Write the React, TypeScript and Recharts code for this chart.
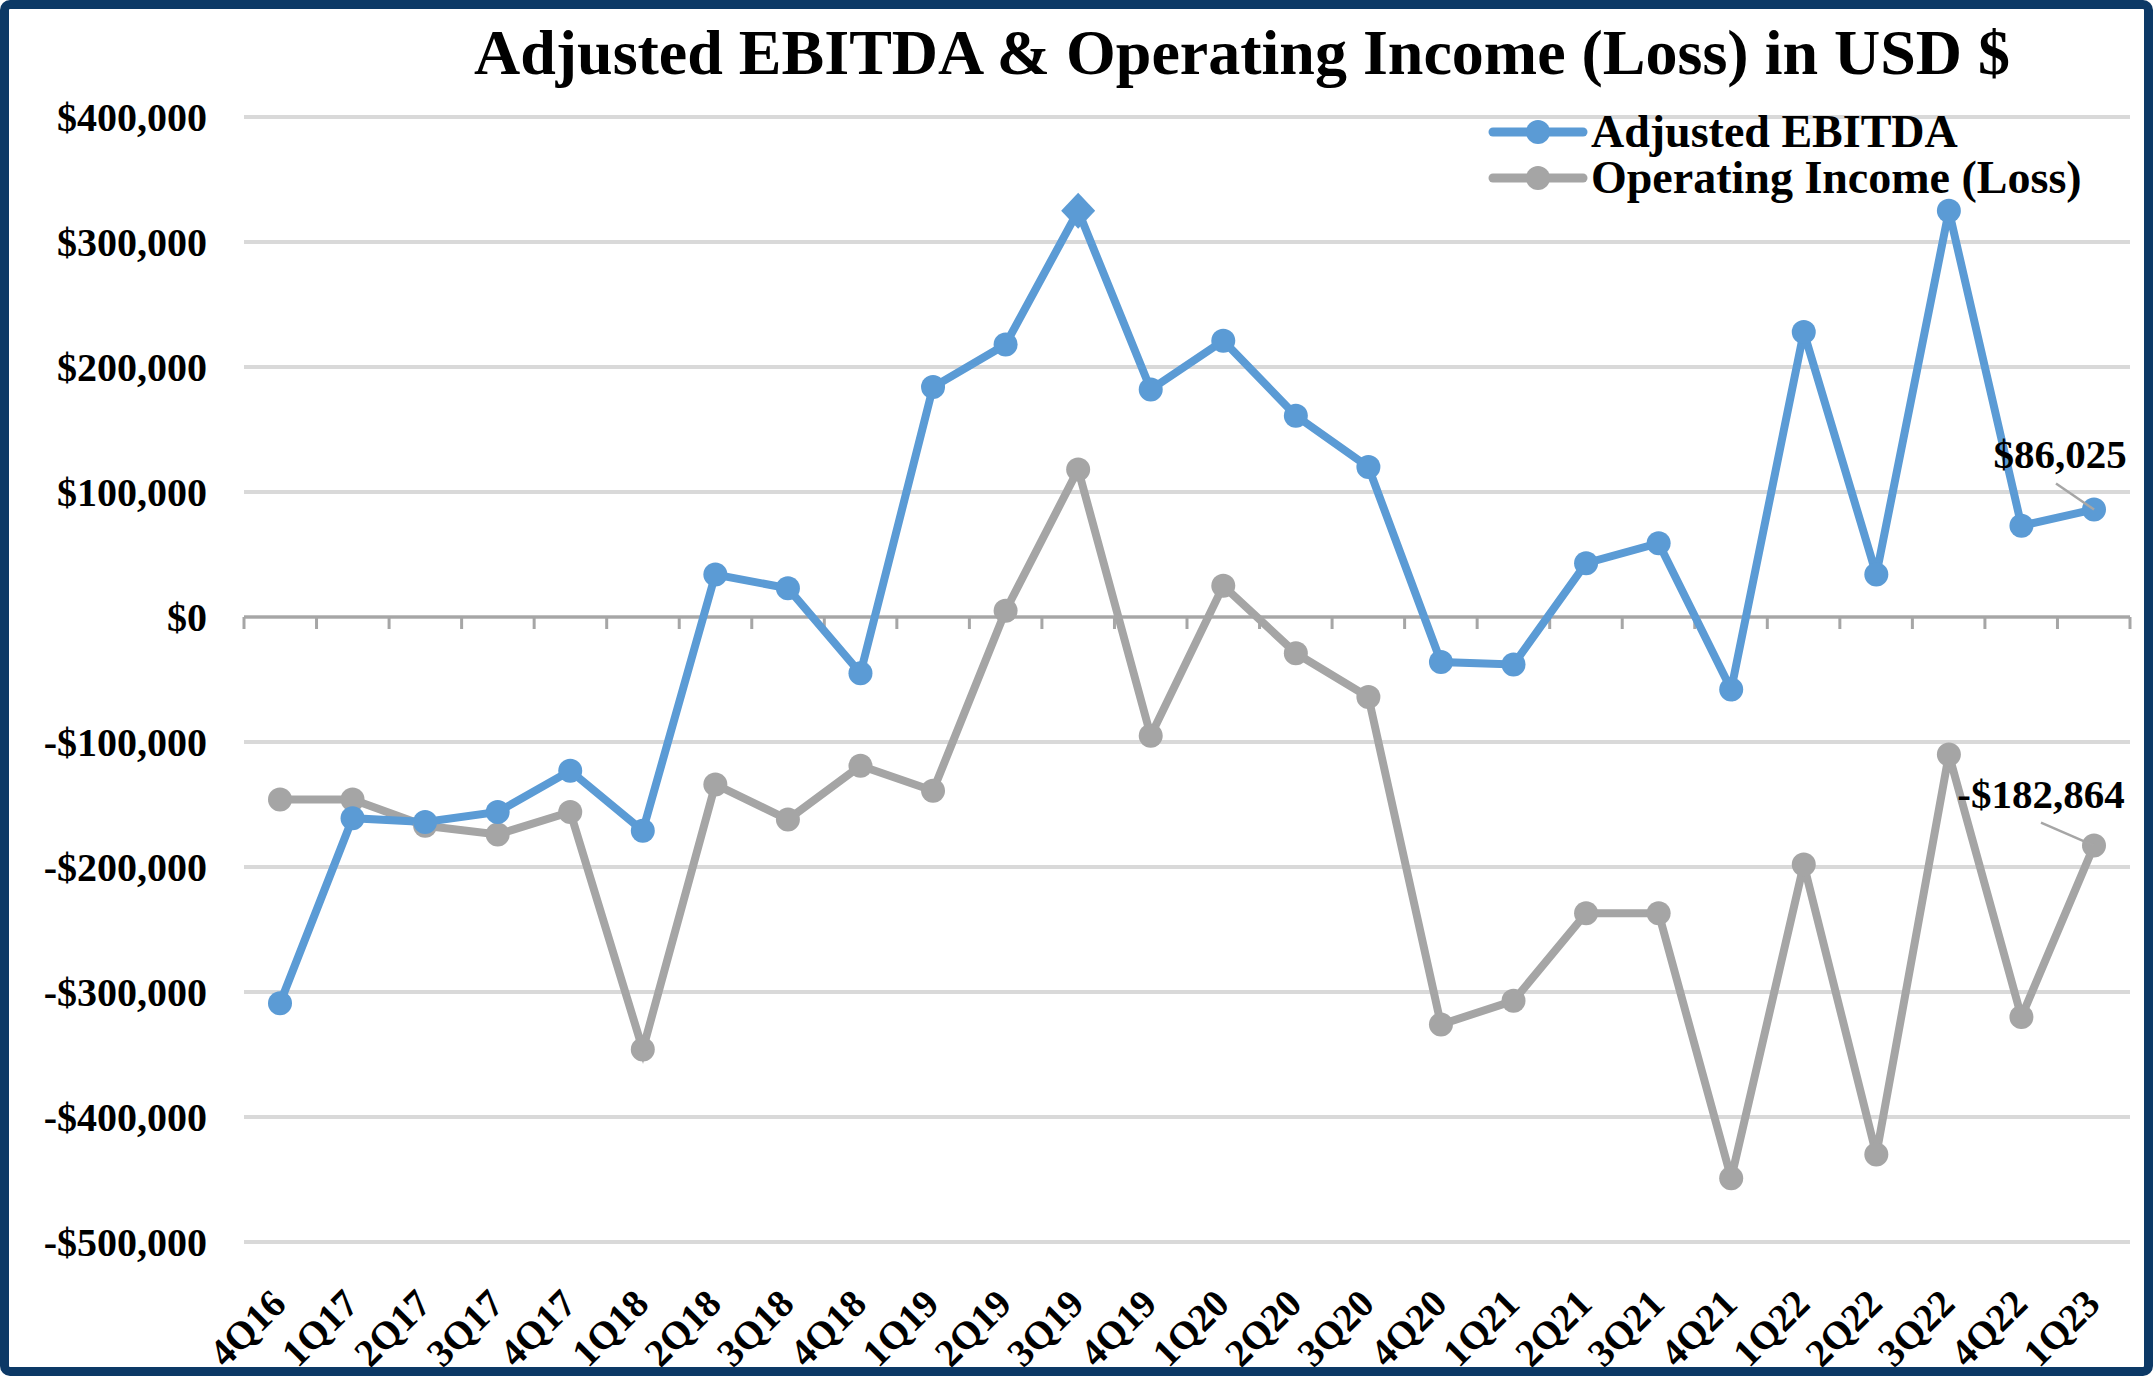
import React from 'react';
import { LineChart, Line, XAxis, YAxis, CartesianGrid, Legend, ReferenceLine, LabelList } from 'recharts';

const quarters = [
  '4Q16', '1Q17', '2Q17', '3Q17', '4Q17', '1Q18', '2Q18', '3Q18', '4Q18',
  '1Q19', '2Q19', '3Q19', '4Q19', '1Q20', '2Q20', '3Q20', '4Q20',
  '1Q21', '2Q21', '3Q21', '4Q21', '1Q22', '2Q22', '3Q22', '4Q22', '1Q23',
];

const adjustedEbitda = [
  -309000, -161000, -164000, -156000, -123000, -171000, 34000, 23000, -45000,
  184000, 218000, 325000, 182000, 221000, 161000, 120000, -36000,
  -38000, 43000, 59000, -58000, 228000, 34000, 325000, 73000, 86025,
];

const operatingIncome = [
  -146000, -146000, -167000, -174000, -156000, -346000, -134000, -162000, -119000,
  -139000, 5000, 118000, -95000, 25000, -29000, -64000, -326000,
  -307000, -237000, -237000, -449000, -198000, -430000, -110000, -320000, -182864,
];

const yTicks = [-500000, -400000, -300000, -200000, -100000, 0, 100000, 200000, 300000, 400000];

// the peak quarter Excel drew with a diamond marker
const highlightQuarter = '3Q19';

const BLUE = '#5b9bd5';
const GRAY = '#a5a5a5';
const AXIS = '#a6a6a6';
const FONT = '"Liberation Serif", "Times New Roman", serif';

const data = quarters.map((q, i) => ({ q, ebitda: adjustedEbitda[i], opIncome: operatingIncome[i] }));
const lastIndex = quarters.length - 1;

const money = (v: number) =>
  v < 0 ? `-$${Math.abs(v).toLocaleString('en-US')}` : `$${v.toLocaleString('en-US')}`;

const EbitdaDot = (props: any) => {
  const { cx, cy, payload, index } = props;
  if (payload.q === highlightQuarter) {
    return (
      <path key={`d${index}`} d={`M${cx},${cy - 18}L${cx + 17},${cy}L${cx},${cy + 18}L${cx - 17},${cy}Z`} fill={BLUE} />
    );
  }
  return <circle key={`d${index}`} cx={cx} cy={cy} r={12} fill={BLUE} />;
};

const IncomeDot = (props: any) => {
  const { cx, cy, index } = props;
  return <circle key={`g${index}`} cx={cx} cy={cy} r={12} fill={GRAY} />;
};

// zero line doubles as the category axis, with tick marks between quarters
const ZeroAxis = (props: any) => {
  const { x1, y1, x2, y2 } = props;
  const n = quarters.length;
  const step = (x2 - x1) / n;
  return (
    <g>
      <line x1={x1} y1={y1} x2={x2} y2={y2} stroke={AXIS} strokeWidth={3} />
      {Array.from({ length: n + 1 }, (_, i) => (
        <line key={i} x1={x1 + i * step} x2={x1 + i * step} y1={y1} y2={y1 + 12} stroke={AXIS} strokeWidth={3} />
      ))}
    </g>
  );
};

const QuarterTick = (props: any) => {
  const { x, y, payload } = props;
  return (
    <text
      x={0}
      y={0}
      transform={`translate(${x + 8},${y + 56}) rotate(-45)`}
      textAnchor="end"
      fontFamily={FONT}
      fontWeight="bold"
      fontSize={39}
      fill="#000"
    >
      {payload.value}
    </text>
  );
};

const endLabel = (dx: number, dy: number, lx: number, ly: number) => (props: any) => {
  const { x, y, index, value } = props;
  if (index !== lastIndex) return null;
  return (
    <g>
      <line x1={x + lx} y1={y + ly} x2={x} y2={y} stroke={AXIS} strokeWidth={2.5} />
      <text x={x + dx} y={y + dy} textAnchor="middle" fontFamily={FONT} fontWeight="bold" fontSize={41} fill="#000">
        {money(value)}
      </text>
    </g>
  );
};

const legendItems = [
  { name: 'Adjusted EBITDA', color: BLUE },
  { name: 'Operating Income (Loss)', color: GRAY },
];

const LegendContent = () => (
  <div style={{ fontFamily: FONT, fontWeight: 'bold', fontSize: 46, lineHeight: '46px', color: '#000' }}>
    {legendItems.map((item) => (
      <div key={item.name} style={{ display: 'flex', alignItems: 'center', whiteSpace: 'nowrap' }}>
        <svg width={100} height={46}>
          <line x1={5} x2={95} y1={23} y2={23} stroke={item.color} strokeWidth={9} strokeLinecap="round" />
          <circle cx={50} cy={23} r={12} fill={item.color} />
        </svg>
        <span style={{ marginLeft: 3 }}>{item.name}</span>
      </div>
    ))}
  </div>
);

export default function App() {
  return (
    <div style={{ position: 'absolute', left: 0, top: 0, width: 2153, height: 1376, background: '#fff', overflow: 'hidden' }}>
      <div
        style={{
          position: 'absolute',
          left: 1242,
          top: 21,
          transform: 'translateX(-50%)',
          whiteSpace: 'nowrap',
          fontFamily: FONT,
          fontWeight: 'bold',
          fontSize: 64,
          lineHeight: '64px',
          color: '#000',
        }}
      >
        Adjusted EBITDA &amp; Operating Income (Loss) in USD $
      </div>
      <LineChart width={2153} height={1376} data={data} margin={{ top: 117, right: 23, left: 0, bottom: 0 }}>
        <CartesianGrid vertical={false} stroke="#d9d9d9" strokeWidth={4} />
        <XAxis
          dataKey="q"
          height={134}
          padding={{ left: 36, right: 36 }}
          axisLine={false}
          tickLine={false}
          interval={0}
          tick={<QuarterTick />}
        />
        <YAxis
          width={244}
          domain={[-500000, 400000]}
          ticks={yTicks}
          tickFormatter={money}
          axisLine={false}
          tickLine={false}
          tickMargin={31}
          tick={{ fontSize: 40, fontWeight: 'bold', fontFamily: FONT, fill: '#000' }}
        />
        <ReferenceLine y={0} shape={ZeroAxis} />
        <Legend
          layout="vertical"
          align="center"
          verticalAlign="middle"
          content={<LegendContent />}
          wrapperStyle={{ left: 1488, top: 109, width: 'auto', height: 'auto' }}
        />
        <Line
          dataKey="opIncome"
          name="Operating Income (Loss)"
          stroke={GRAY}
          strokeWidth={8}
          dot={IncomeDot}
          activeDot={false}
          isAnimationActive={false}
        >
          <LabelList dataKey="opIncome" content={endLabel(-53, -38, -53, -23)} />
        </Line>
        <Line
          dataKey="ebitda"
          name="Adjusted EBITDA"
          stroke={BLUE}
          strokeWidth={8}
          dot={EbitdaDot}
          activeDot={false}
          isAnimationActive={false}
        >
          <LabelList dataKey="ebitda" content={endLabel(-34, -41, -38, -26)} />
        </Line>
      </LineChart>
      <div
        style={{
          position: 'absolute',
          inset: 0,
          border: '9px solid #0c3966',
          borderRadius: 10,
          boxSizing: 'border-box',
          pointerEvents: 'none',
        }}
      />
    </div>
  );
}
